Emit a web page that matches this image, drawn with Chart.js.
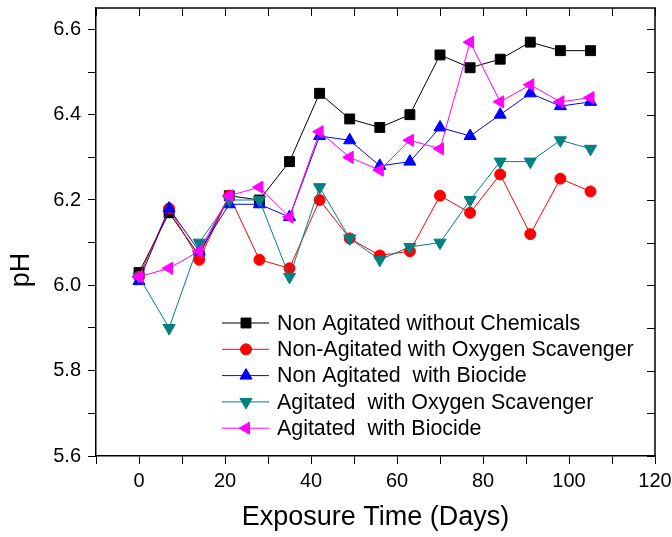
<!DOCTYPE html>
<html>
<head>
<meta charset="utf-8">
<script src="https://cdn.jsdelivr.net/npm/chart.js@4/dist/chart.umd.min.js"></script>
<style>
  body { margin: 0; background: #fff; }
  #wrap { width: 672px; height: 537px; }
</style>
</head>
<body>
<div id="wrap"><canvas id="chart" width="672" height="537"></canvas></div>
<script>
// exposure days
const days = [0, 7, 14, 21, 28, 35, 42, 49, 56, 63, 70, 77, 84, 91, 98, 105]

const nonAgitatedNoChem = [6.03, 6.17, 6.07, 6.21, 6.20, 6.29, 6.45, 6.39, 6.37, 6.40, 6.54, 6.51, 6.53, 6.57, 6.55, 6.55]
const nonAgitatedOxygen = [6.02, 6.18, 6.06, 6.21, 6.06, 6.04, 6.20, 6.11, 6.07, 6.08, 6.21, 6.17, 6.26, 6.12, 6.25, 6.22]
const nonAgitatedBiocide = [6.01, 6.18, 6.08, 6.19, 6.19, 6.16, 6.35, 6.34, 6.28, 6.29, 6.37, 6.35, 6.40, 6.45, 6.42, 6.43]
const agitatedOxygen = [6.02, 5.90, 6.10, 6.20, 6.20, 6.02, 6.23, 6.11, 6.06, 6.09, 6.10, 6.20, 6.29, 6.29, 6.34, 6.32]
const agitatedBiocide = [6.02, 6.04, 6.08, 6.21, 6.23, 6.16, 6.36, 6.30, 6.27, 6.34, 6.32, 6.57, 6.43, 6.47, 6.43, 6.44]

const seriesLabels = [
    'Non Agitated without Chemicals',
    'Non-Agitated with Oxygen Scavenger',
    'Non Agitated  with Biocide',
    'Agitated  with Oxygen Scavenger',
    'Agitated  with Biocide'
]

const xTicks = [-10, 0, 10, 20, 30, 40, 50, 60, 70, 80, 90, 100, 110, 120]
const xLabelled = [0, 20, 40, 60, 80, 100, 120]
const yTicks = [5.6, 5.7, 5.8, 5.9, 6.0, 6.1, 6.2, 6.3, 6.4, 6.5, 6.6]
const yLabelled = ['5.6', '5.8', '6.0', '6.2', '6.4', '6.6']

const FONT = "'Liberation Sans', Arial, sans-serif"

function series(values, label, color, style, radius, rotation, order) {
    return {
        label: label,
        data: days.map((d, i) => ({ x: d, y: values[i] })),
        borderColor: color,
        backgroundColor: color,
        borderWidth: 1,
        pointStyle: style,
        pointRadius: radius,
        pointRotation: rotation,
        pointBorderWidth: 1,
        pointBackgroundColor: color,
        pointBorderColor: color,
        order: order
    }
}

const datasets = [
    series(nonAgitatedNoChem, seriesLabels[0], '#000000', 'rect', 7, 0, 5),
    series(nonAgitatedOxygen, seriesLabels[1], '#ff0000', 'circle', 5.5, 0, 4),
    series(nonAgitatedBiocide, seriesLabels[2], '#0000ff', 'triangle', 7, 0, 3),
    series(agitatedOxygen, seriesLabels[3], '#008080', 'triangle', 7, 180, 2),
    series(agitatedBiocide, seriesLabels[4], '#ff00ff', 'triangle', 7, 270, 1)
]

// frame, inner ticks on top/right, pH label and the legend box inside the plot
const extras = {
    id: 'extras',
    afterDraw(chart) {
        const ctx = chart.ctx
        const a = chart.chartArea
        const xs = chart.scales.x
        const ys = chart.scales.y
        ctx.save()
        ctx.strokeStyle = '#000'
        ctx.lineWidth = 1.5
        ctx.beginPath()
        ctx.moveTo(a.left, a.top)
        ctx.lineTo(a.right, a.top)
        ctx.lineTo(a.right, a.bottom)
        ctx.stroke()
        ctx.lineWidth = 1
        xTicks.forEach(v => {
            const px = Math.round(xs.getPixelForValue(v)) + 0.5
            ctx.beginPath()
            ctx.moveTo(px, a.top)
            ctx.lineTo(px, a.top + 8)
            ctx.stroke()
        })
        yTicks.forEach(v => {
            const py = Math.round(ys.getPixelForValue(v)) + 0.5
            ctx.beginPath()
            ctx.moveTo(a.right, py)
            ctx.lineTo(a.right - 8, py)
            ctx.stroke()
        })

        // y title
        ctx.fillStyle = '#000'
        ctx.font = '27px ' + FONT
        ctx.textAlign = 'center'
        ctx.textBaseline = 'middle'
        ctx.translate(22, 270)
        ctx.rotate(-Math.PI / 2)
        ctx.fillText('pH', 0, 0)
        ctx.restore()

        // legend
        ctx.save()
        ctx.font = '21.4px ' + FONT
        ctx.textBaseline = 'middle'
        ctx.textAlign = 'left'
        chart.data.datasets.forEach((ds, i) => {
            const y = 323 + i * 26.3
            ctx.strokeStyle = ds.borderColor
            ctx.fillStyle = ds.backgroundColor
            ctx.lineWidth = 1
            ctx.beginPath()
            ctx.moveTo(222, y)
            ctx.lineTo(269, y)
            ctx.stroke()
            Chart.helpers.drawPoint(ctx, {
                pointStyle: ds.pointStyle,
                rotation: ds.pointRotation,
                radius: ds.pointRadius,
                borderWidth: 1
            }, 246, y)
            ctx.fillStyle = '#000'
            ctx.fillText(ds.label, 277, y + 1)
        })
        ctx.restore()
    }
}

const ctx = document.getElementById('chart').getContext('2d')

new Chart(ctx, {
    type: 'line',
    data: { datasets: datasets },
    options: {
        responsive: false,
        animation: false,
        layout: { padding: { left: 0, right: 17, top: 6, bottom: 0 } },
        plugins: { legend: { display: false }, tooltip: { enabled: false } },
        scales: {
            x: {
                type: 'linear',
                min: -10,
                max: 120,
                afterBuildTicks: s => { s.ticks = xTicks.map(v => ({ value: v })) },
                afterFit: s => { s.height = 81; s.paddingLeft = 0; s.paddingRight = 0 },
                ticks: {
                    autoSkip: false,
                    maxRotation: 0,
                    padding: 5,
                    color: '#000',
                    font: { family: FONT, size: 20 },
                    callback: v => xLabelled.includes(v) ? String(v) : ''
                },
                grid: { drawOnChartArea: false, tickLength: 8, color: '#000', tickWidth: 1 },
                border: { color: '#000', width: 1.5 },
                title: {
                    display: true,
                    text: 'Exposure Time (Days)',
                    color: '#000',
                    font: { family: FONT, size: 27 },
                    padding: { top: 0, bottom: 3 }
                }
            },
            y: {
                type: 'linear',
                min: 5.6,
                max: 6.65,
                afterBuildTicks: s => { s.ticks = yTicks.map(v => ({ value: v })) },
                afterFit: s => { s.width = 96; s.paddingTop = 0; s.paddingBottom = 0 },
                ticks: {
                    autoSkip: false,
                    padding: 7,
                    color: '#000',
                    font: { family: FONT, size: 20 },
                    callback: v => yLabelled.includes(v.toFixed(1)) ? v.toFixed(1) : ''
                },
                grid: { drawOnChartArea: false, tickLength: 8, color: '#000', tickWidth: 1 },
                border: { color: '#000', width: 1.5 }
            }
        }
    },
    plugins: [extras]
})
</script>
</body>
</html>
